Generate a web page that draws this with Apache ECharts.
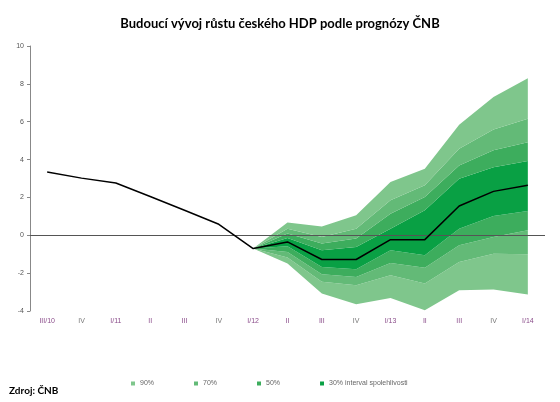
<!DOCTYPE html>
<html>
<head>
<meta charset="utf-8">
<script src="https://cdn.jsdelivr.net/npm/echarts@6/dist/echarts.min.js"></script>
<style>
html,body{margin:0;padding:0;background:#fff;}
#c{width:560px;height:402px;}
</style>
</head>
<body>
<div id="c"></div>
<script>
var categories = ['III/10','IV','I/11','II','III','IV','I/12','II','III','IV','I/13','II','III','IV','I/14'];
var yTicks = [-4,-2,0,2,4,6,8,10];
var central = [3.34, 3.02, 2.76, 2.05, 1.32, 0.58, -0.70, -0.35, -1.28, -1.28, -0.23, -0.23, 1.55, 2.32, 2.64];
var lo90 = ['-','-','-','-','-','-', -0.70, -1.49, -3.08, -3.64, -3.31, -3.96, -2.90, -2.87, -3.13];
var lo70 = ['-','-','-','-','-','-', -0.70, -1.18, -2.46, -2.64, -2.11, -2.55, -1.41, -0.97, -1.00];
var lo50 = ['-','-','-','-','-','-', -0.70, -0.88, -2.06, -2.20, -1.46, -1.72, -0.53, -0.09, 0.26];
var lo30 = ['-','-','-','-','-','-', -0.70, -0.58, -1.67, -1.79, -0.79, -1.06, 0.35, 1.02, 1.28];
var hi30 = ['-','-','-','-','-','-', -0.70, -0.14, -0.79, -0.62, 0.35, 1.32, 2.99, 3.60, 3.92];
var hi50 = ['-','-','-','-','-','-', -0.70, 0.09, -0.44, -0.17, 1.14, 2.02, 3.69, 4.49, 4.92];
var hi70 = ['-','-','-','-','-','-', -0.70, 0.35, -0.09, 0.35, 1.85, 2.64, 4.57, 5.59, 6.16];
var hi90 = ['-','-','-','-','-','-', -0.70, 0.67, 0.47, 1.06, 2.81, 3.52, 5.84, 7.30, 8.30];
var bandNames = ['90%','70%','50%','30% interval spolehlivosti'];
var bandColors = ['#7fc68c','#63ba77','#3dad5d','#09a044'];

function diff(a, b) {
  return a.map(function (v, i) { return v === '-' ? '-' : +(v - b[i]).toFixed(3); });
}
var bounds = [lo90, lo70, lo50, lo30, hi30, hi50, hi70, hi90];
var bandIdx = [0, 1, 2, 3, 2, 1, 0];
var series = [{
  type: 'line', stack: 'fan', stackStrategy: 'all', data: lo90, symbol: 'none',
  lineStyle: { opacity: 0 }, silent: true, z: 1
}];
for (var k = 1; k < bounds.length; k++) {
  var bi = bandIdx[k - 1];
  series.push({
    name: bandNames[bi], type: 'line', stack: 'fan', stackStrategy: 'all',
    data: diff(bounds[k], bounds[k - 1]), symbol: 'none',
    lineStyle: { width: 0, opacity: 0 },
    itemStyle: { color: bandColors[bi] },
    areaStyle: { color: bandColors[bi], opacity: 1 }, z: 1
  });
}
series.push({
  name: 'central', type: 'line', data: central, symbol: 'none',
  lineStyle: { color: '#000', width: 1.5 }, z: 5,
  markLine: {
    silent: true, symbol: 'none', label: { show: false },
    lineStyle: { color: '#555', width: 1, type: 'solid' },
    data: [{ yAxis: 0 }]
  }
});

var chart = echarts.init(document.getElementById('c'));
chart.setOption({
  animation: false,
  backgroundColor: '#fff',
  title: {
    text: 'Budoucí vývoj růstu českého HDP podle prognózy ČNB',
    left: 'center', top: 12,
    textStyle: { fontFamily: 'Lato', fontWeight: 'bold', fontSize: 13, color: '#000' }
  },
  graphic: [{
    type: 'text', left: 9, top: 386,
    style: { text: 'Zdroj: ČNB', font: 'bold 10px Lato', fill: '#000' }
  }],
  legend: {
    data: bandNames, left: 126, top: 375,
    itemWidth: 4, itemHeight: 4, itemGap: 40,
    icon: 'rect',
    textStyle: { fontSize: 7, color: '#666', fontFamily: 'Liberation Sans' }
  },
  grid: { left: 30, right: 15, top: 46, bottom: 91, containLabel: false },
  xAxis: {
    type: 'category', data: categories, boundaryGap: true,
    axisLine: { show: false }, axisTick: { show: false },
    axisLabel: {
      fontSize: 7, margin: 7, fontFamily: 'Liberation Sans',
      color: function (v) { return v === 'IV' ? '#777' : '#8a4c8a'; }
    }
  },
  yAxis: {
    type: 'value', min: -4, max: 10, interval: 2,
    axisLine: { show: true, lineStyle: { color: '#888' } },
    axisTick: { show: true, length: 3, lineStyle: { color: '#888' } },
    splitLine: { show: false },
    axisLabel: { fontSize: 7, color: '#555', margin: 6, fontFamily: 'Liberation Sans' }
  },
  series: series
});
</script>
</body>
</html>
